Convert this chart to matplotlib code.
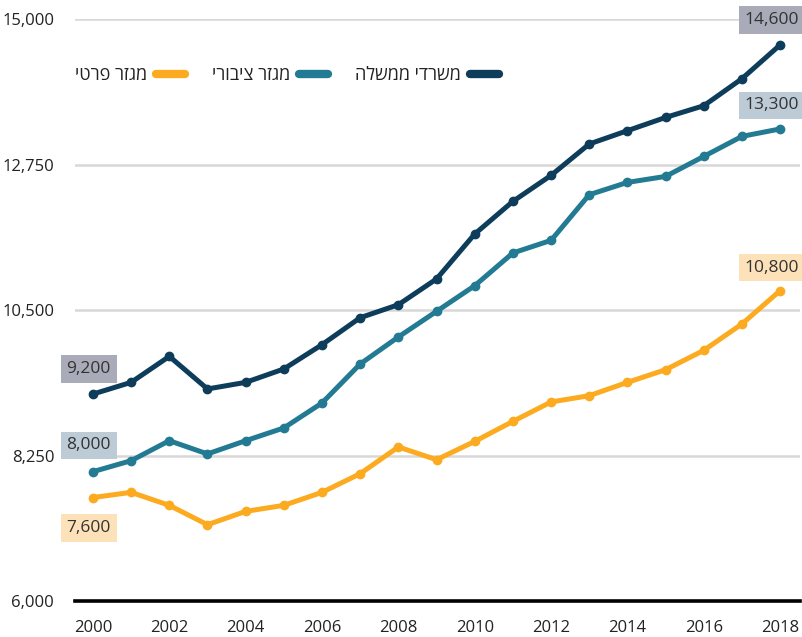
import numpy as np
import matplotlib.pyplot as plt
from matplotlib.lines import Line2D

plt.rcParams['font.family'] = ['Open Sans', 'DejaVu Sans']

years = np.arange(2000, 2019)
# משרדי ממשלה
gov = [9200, 9381, 9783, 9279, 9381, 9588, 9964, 10381, 10582, 10980,
       11675, 12180, 12582, 13067, 13273, 13478, 13659, 14077, 14600]
# מגזר ציבורי
public = [8000, 8170, 8479, 8274, 8479, 8676, 9062, 9665, 10083, 10479,
          10876, 11382, 11577, 12283, 12473, 12566, 12875, 13185, 13300]
# מגזר פרטי
private = [7600, 7680, 7479, 7180, 7386, 7479, 7680, 7969, 8382, 8185,
           8468, 8778, 9078, 9175, 9381, 9577, 9876, 10284, 10800]

names = ["משרדי ממשלה", "מגזר ציבורי", "מגזר פרטי"]
colors = ["#0d3d5a", "#237b93", "#fcab20"]
boxcols = ["#a9abb9", "#bdcbd7", "#fde1b9"]
yticks = [6000, 8250, 10500, 12750, 15000]

fig = plt.figure(figsize=(8.02, 6.37), dpi=100)
ax = fig.add_axes([75/802, 36/637, 725/802, 582/637])

series = [gov, public, private]
for s, c in zip(series, colors):
    ax.plot(years, s, color=c, lw=3.6, marker='o', ms=6,
            solid_capstyle='round', solid_joinstyle='round', zorder=3)

# start / end value boxes
start_off = [18, 19, -22]
end_off = [18, 17, 16.5]
for s, c, bc, so, eo in zip(series, colors, boxcols, start_off, end_off):
    ax.annotate(f"{s[0]:,}", xy=(years[0], s[0]), xytext=(-3, so),
                textcoords='offset points', ha='center', va='center',
                fontsize=12.5, color='#333333', annotation_clip=False,
                bbox=dict(boxstyle='square,pad=0.33', fc=bc, ec='none'))
    ax.annotate(f"{s[-1]:,}", xy=(years[-1], s[-1]), xytext=(-6, eo),
                textcoords='offset points', ha='center', va='center',
                fontsize=12.5, color='#333333', annotation_clip=False,
                bbox=dict(boxstyle='square,pad=0.33', fc=bc, ec='none'))

ax.set_xlim(1999.53, 2018.52)
ax.set_ylim(6000, 15000)
ax.set_yticks(yticks)
ax.set_yticklabels([f"{v:,}" for v in yticks])
ax.set_xticks(years[::2])
ax.tick_params(axis='both', length=0, labelsize=12, colors='#222222')
ax.tick_params(axis='y', pad=15)
ax.tick_params(axis='x', pad=14)
ax.grid(axis='y', color='#d8d8d8', lw=1.8)
ax.set_axisbelow(True)
for sp in ['top', 'right', 'left']:
    ax.spines[sp].set_visible(False)
ax.spines['bottom'].set_color('black')
ax.spines['bottom'].set_linewidth(2.6)
ax.spines['bottom'].set_zorder(4)

# legend, right to left
handles = [Line2D([0], [0], color=c, lw=6, solid_capstyle='round') for c in colors]
order = [2, 1, 0]
ax.legend([handles[i] for i in order], [names[i][::-1] for i in order],
          ncol=3, markerfirst=False, frameon=False, loc='center left',
          bbox_to_anchor=(0.0, 0.903), borderpad=0, borderaxespad=0,
          handlelength=1.6, handletextpad=0.5, columnspacing=1.5,
          fontsize=13, labelcolor='#222222')

fig.savefig("out.png", dpi=100)
